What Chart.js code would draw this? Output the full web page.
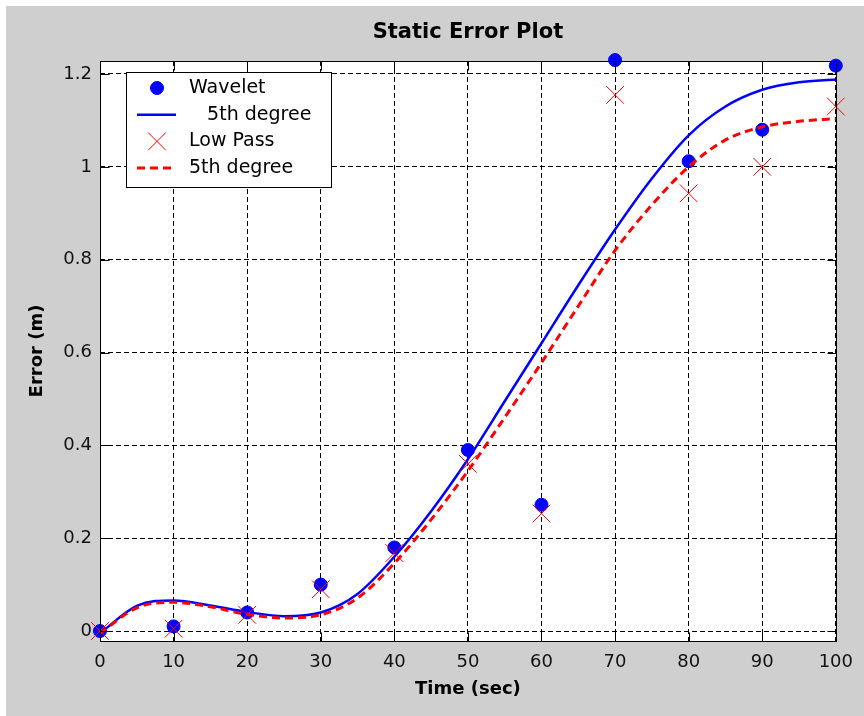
<!DOCTYPE html>
<html lang="en">
<head>
<meta charset="UTF-8">
<title>Static Error Plot</title>
<script src="https://cdn.jsdelivr.net/npm/chart.js"></script>
<style>
  html, body { margin: 0; padding: 0; background: #fff; }
  #wrap { position: absolute; left: 6px; top: 6px; width: 858px; height: 710px; background: #cfcfcf; }
</style>
</head>
<body>
<div id="wrap"><canvas id="errChart" width="858" height="710"></canvas></div>

<script>
// measured samples
const times = [0, 10, 20, 30, 40, 50, 60, 70, 80, 90, 100];
const wavelet = [0, 0.01, 0.04, 0.10, 0.18, 0.39, 0.272, 1.23, 1.012, 1.08, 1.218];
const lowPass = [0, 0.005, 0.035, 0.09, 0.168, 0.36, 0.253, 1.155, 0.943, 1.0, 1.13];

// 5th degree fits, every 5 s
const fitTimes = [0, 5, 10, 15, 20, 25, 30, 35, 40, 45, 50, 55, 60, 65, 70, 75, 80, 85, 90, 95, 100];
const waveletFit = [-0.005, 0.054, 0.066, 0.055, 0.041, 0.032, 0.040, 0.080, 0.160, 0.258, 0.370, 0.495, 0.620, 0.745, 0.865, 0.975, 1.068, 1.130, 1.166, 1.182, 1.188];
const lowPassFit = [-0.005, 0.050, 0.062, 0.052, 0.036, 0.028, 0.035, 0.071, 0.146, 0.240, 0.345, 0.460, 0.578, 0.700, 0.820, 0.918, 1.000, 1.058, 1.086, 1.098, 1.104];

const xTicks = [0, 10, 20, 30, 40, 50, 60, 70, 80, 90, 100];
const xTickLabels = ['0', '10', '20', '30', '40', '50', '60', '70', '80', '90', '100'];
const yTicks = [0, 0.2, 0.4, 0.6, 0.8, 1, 1.2];
const yTickLabels = ['0', '0.2', '0.4', '0.6', '0.8', '1', '1.2'];

const FONT = 'DejaVu Sans';

function pts(xs, ys) {
  return xs.map((x, i) => ({ x: x, y: ys[i] }));
}

// white axes background, full box, inward ticks and the title
const axesFrame = {
  id: 'axesFrame',
  beforeDraw(chart) {
    const a = chart.chartArea;
    const ctx = chart.ctx;
    ctx.save();
    ctx.fillStyle = '#fff';
    ctx.fillRect(a.left, a.top, a.right - a.left, a.bottom - a.top);
    ctx.restore();
  },
  afterDraw(chart) {
    const a = chart.chartArea;
    const ctx = chart.ctx;
    const xs = chart.scales.x, ys = chart.scales.y;
    const L = Math.round(a.left) + 0.5, R = Math.round(a.right) + 0.5;
    const T = Math.round(a.top) + 0.5, B = Math.round(a.bottom) + 0.5;
    ctx.save();
    ctx.strokeStyle = '#000';
    ctx.lineWidth = 1;
    ctx.setLineDash([]);
    ctx.strokeRect(L, T, R - L, B - T);
    ctx.beginPath();
    xTicks.forEach(v => {
      const px = Math.round(xs.getPixelForValue(v)) + 0.5;
      ctx.moveTo(px, B); ctx.lineTo(px, B - 9);
      ctx.moveTo(px, T); ctx.lineTo(px, T + 9);
    });
    yTicks.forEach(v => {
      const py = Math.round(ys.getPixelForValue(v)) + 0.5;
      ctx.moveTo(L, py); ctx.lineTo(L + 9, py);
      ctx.moveTo(R, py); ctx.lineTo(R - 9, py);
    });
    ctx.stroke();

    ctx.fillStyle = '#000';
    ctx.font = 'bold 21px "' + FONT + '"';
    ctx.textAlign = 'center';
    ctx.textBaseline = 'middle';
    ctx.fillText('Static Error Plot', (a.left + a.right) / 2, 27);
    ctx.restore();
  }
};

// legend box inside the axes, top left
const boxLegend = {
  id: 'boxLegend',
  afterDraw(chart) {
    const ctx = chart.ctx;
    const rows = [0, 1, 2, 3];
    ctx.save();
    ctx.fillStyle = '#fff';
    ctx.fillRect(120, 66, 205, 115);
    ctx.strokeStyle = '#000';
    ctx.lineWidth = 1;
    ctx.strokeRect(120.5, 66.5, 205, 115);

    rows.forEach(i => {
      const ds = chart.data.datasets[i];
      const y = 82 + i * 26.7;
      if (ds.showLine) {
        ctx.strokeStyle = ds.borderColor;
        ctx.lineWidth = ds.borderWidth;
        ctx.setLineDash(ds.borderDash || []);
        ctx.beginPath();
        ctx.moveTo(131, y);
        ctx.lineTo(170, y);
        ctx.stroke();
        ctx.setLineDash([]);
      } else {
        ctx.fillStyle = ds.pointBackgroundColor || 'transparent';
        ctx.strokeStyle = ds.pointBorderColor;
        ctx.lineWidth = ds.pointBorderWidth;
        Chart.helpers.drawPoint(ctx, {
          pointStyle: ds.pointStyle,
          radius: ds.pointRadius,
          rotation: 0,
          borderWidth: ds.pointBorderWidth
        }, 151, y);
      }
      ctx.fillStyle = '#000';
      ctx.font = '19px "' + FONT + '"';
      ctx.textAlign = 'left';
      ctx.textBaseline = 'middle';
      ctx.fillText(ds.label, 183, y);
    });
    ctx.restore();
  }
};

const ctx = document.getElementById('errChart').getContext('2d');

new Chart(ctx, {
  type: 'scatter',
  data: {
    datasets: [
      {
        label: 'Wavelet',
        data: pts(times, wavelet),
        pointStyle: 'circle',
        pointRadius: 6.5,
        pointBackgroundColor: '#0000ff',
        pointBorderColor: '#0000ff',
        pointBorderWidth: 1,
        clip: false,
        order: 4
      },
      {
        label: '   5th degree',
        data: pts(fitTimes, waveletFit),
        showLine: true,
        borderColor: '#0000ff',
        borderWidth: 2.5,
        pointRadius: 0,
        cubicInterpolationMode: 'monotone',
        order: 3
      },
      {
        label: 'Low Pass',
        data: pts(times, lowPass),
        pointStyle: 'crossRot',
        pointRadius: 12.5,
        pointBorderColor: '#ff0000',
        pointBorderWidth: 1,
        clip: false,
        order: 2
      },
      {
        label: '5th degree',
        data: pts(fitTimes, lowPassFit),
        showLine: true,
        borderColor: '#ff0000',
        borderWidth: 3,
        borderDash: [8, 5],
        pointRadius: 0,
        cubicInterpolationMode: 'monotone',
        order: 1
      }
    ]
  },
  options: {
    responsive: false,
    animation: false,
    devicePixelRatio: 1,
    layout: { padding: { top: 55, right: 27, left: 0, bottom: 0 } },
    plugins: {
      legend: { display: false },
      tooltip: { enabled: false },
      title: { display: false }
    },
    scales: {
      x: {
        type: 'linear',
        min: 0,
        max: 100,
        afterFit(s) { s.height = 75; },
        afterBuildTicks(s) { s.ticks = xTicks.map(v => ({ value: v })); },
        grid: { color: '#000', lineWidth: 1, drawTicks: false },
        border: { display: false, dash: [5, 3] },
        ticks: {
          padding: 11,
          color: '#111',
          font: { family: FONT, size: 18 },
          callback: (v, i) => xTickLabels[i]
        },
        title: {
          display: true,
          text: 'Time (sec)',
          color: '#000',
          font: { family: FONT, size: 18, weight: 'bold' },
          padding: { top: 0, bottom: 16 }
        }
      },
      y: {
        type: 'linear',
        min: -0.0215,
        max: 1.228,
        afterFit(s) { s.width = 94; },
        afterBuildTicks(s) { s.ticks = yTicks.map(v => ({ value: v })); },
        grid: { color: '#000', lineWidth: 1, drawTicks: false },
        border: { display: false, dash: [5, 3] },
        ticks: {
          padding: 8,
          color: '#111',
          font: { family: FONT, size: 18 },
          callback: (v, i) => yTickLabels[i]
        },
        title: {
          display: true,
          text: 'Error (m)',
          color: '#000',
          font: { family: FONT, size: 18, weight: 'bold' },
          padding: { top: 21, bottom: 0 }
        }
      }
    }
  },
  plugins: [axesFrame, boxLegend]
});
</script>
</body>
</html>
